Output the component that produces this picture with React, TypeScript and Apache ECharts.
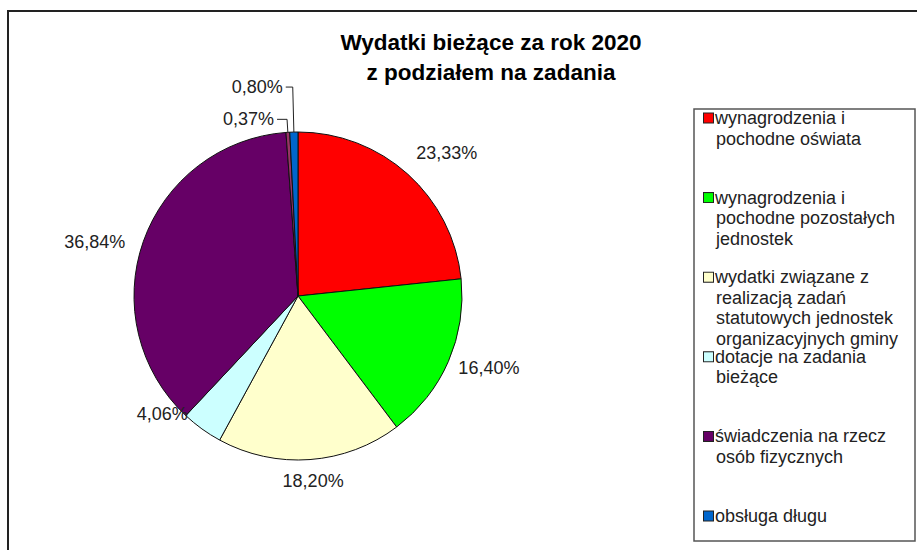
import React, { useEffect, useRef } from "react";
import * as echarts from "echarts";

// ---- data ----
const TITLE_LINES = ["Wydatki bieżące za rok 2020", "z podziałem na zadania"];

const categories = [
  "wynagrodzenia i pochodne oświata",
  "wynagrodzenia i pochodne pozostałych jednostek",
  "wydatki związane z realizacją zadań statutowych jednostek organizacyjnych gminy",
  "dotacje na zadania bieżące",
  "świadczenia na rzecz osób fizycznych",
  "pozostałe",
  "obsługa długu",
];

const shares = [23.33, 16.4, 18.2, 4.06, 36.84, 0.37, 0.8];

// legend entries (the 0,37% slice has no legend entry in the original)
const legendCategories = [
  "wynagrodzenia i pochodne oświata",
  "wynagrodzenia i pochodne pozostałych jednostek",
  "wydatki związane z realizacją zadań statutowych jednostek organizacyjnych gminy",
  "dotacje na zadania bieżące",
  "świadczenia na rzecz osób fizycznych",
  "obsługa długu",
];

const legendLines = [
  ["wynagrodzenia i", "pochodne oświata"],
  ["wynagrodzenia i", "pochodne pozostałych", "jednostek"],
  ["wydatki związane z", "realizacją zadań", "statutowych jednostek", "organizacyjnych gminy"],
  ["dotacje na zadania", "bieżące"],
  ["świadczenia na rzecz", "osób fizycznych"],
  ["obsługa długu"],
];

// ---- styles ----
const FONT = "'Liberation Sans', Arial, sans-serif";
const colors = ["#FF0000", "#00FF00", "#FFFFCC", "#CCFFFF", "#660066", "#993366", "#0066CC"];
const LEGEND_LEFT = 698;
const LEGEND_TOP = 109;
const LEGEND_PITCH = 79.6;
const LEGEND_LINE = 20.6;
// leader-line labels for the two thin slices: [length, length2]
const leaderLines: Record<number, [number, number]> = { 5: [13, 10], 6: [45, 7] };
// small nudges for the ring-placed labels (dx, dy)
const labelNudge = [
  [11, 10],
  [2, -10],
  [0, -20],
  [-15, -49],
  [-9, 15],
  [0, 0],
  [0, 0],
];

const fmt = (v: number) => v.toFixed(2).replace(".", ",") + "%";

export default function App() {
  const ref = useRef<HTMLDivElement>(null);

  useEffect(() => {
    if (!ref.current) return;
    const chart = echarts.init(ref.current, undefined, { renderer: "svg" });

    const rich: Record<string, any> = {
      t: { fontSize: 18, lineHeight: LEGEND_LINE, color: "#222", fontFamily: FONT, padding: [0, 0, 0, 2] },
      u: { fontSize: 18, lineHeight: LEGEND_LINE, color: "#222", fontFamily: FONT, padding: [0, 0, 0, 12] },
    };
    legendCategories.forEach((name, i) => {
      const ci = categories.indexOf(name);
      rich["s" + i] = {
        width: 9,
        height: 9,
        backgroundColor: colors[ci],
        borderColor: "#222",
        borderWidth: 1,
      };
    });

    const legends = legendCategories.map((name, i) => ({
      orient: "vertical",
      left: LEGEND_LEFT,
      top: LEGEND_TOP + i * LEGEND_PITCH,
      padding: 0,
      itemGap: 0,
      itemWidth: 0,
      itemHeight: 0,
      selectedMode: false,
      data: [name],
      formatter: (n: string) => {
        const idx = legendCategories.indexOf(n);
        return legendLines[idx]
          .map((l, k) => (k === 0 ? `{s${idx}|}{t|${l}}` : `{u|${l}}`))
          .join("\n");
      },
      textStyle: { fontFamily: FONT, fontSize: 18, rich },
    }));

    const mainData = categories.map((name, i) => ({
      name,
      value: shares[i],
      itemStyle: { color: colors[i] },
      label: { show: leaderLines[i] !== undefined },
      labelLine: leaderLines[i]
        ? { show: true, length: leaderLines[i][0], length2: leaderLines[i][1] }
        : { show: false },
    }));

    const ringData = categories.map((name, i) => ({
      name,
      value: shares[i],
      itemStyle: { color: "rgba(0,0,0,0)" },
      label: { show: leaderLines[i] === undefined },
    }));

    chart.setOption({
      animation: false,
      backgroundColor: "#ffffff",
      title: {
        text: TITLE_LINES.join("\n"),
        left: 491,
        top: 27,
        padding: 0,
        textAlign: "center",
        textStyle: {
          fontSize: 22.5,
          fontWeight: "bold",
          lineHeight: 30,
          color: "#000",
          fontFamily: FONT,
        },
      },
      graphic: [
        {
          type: "rect",
          shape: { x: 8, y: 11, width: 1000, height: 1000 },
          style: { fill: "none", stroke: "#222", lineWidth: 2 },
          silent: true,
        },
        {
          type: "rect",
          shape: { x: 694, y: 109, width: 221, height: 432 },
          style: { fill: "none", stroke: "#555", lineWidth: 1.5 },
          silent: true,
        },
      ],
      legend: legends,
      series: [
        {
          type: "pie",
          center: [298, 296],
          radius: 164,
          startAngle: 90,
          clockwise: true,
          avoidLabelOverlap: false,
          silent: true,
          itemStyle: { borderColor: "#111", borderWidth: 1 },
          label: {
            position: "outside",
            fontSize: 18,
            fontFamily: FONT,
            color: "#222",
            distanceToLabelLine: 3,
            formatter: (p: any) => fmt(p.value),
          },
          labelLine: { lineStyle: { color: "#222", width: 1 } },
          emphasis: { disabled: true },
          data: mainData,
        },
        {
          type: "pie",
          center: [298, 296],
          radius: [164, 242],
          startAngle: 90,
          clockwise: true,
          avoidLabelOverlap: false,
          silent: true,
          label: {
            position: "inside",
            fontSize: 18,
            fontFamily: FONT,
            color: "#222",
            formatter: (p: any) => fmt(p.value),
          },
          labelLine: { show: false },
          labelLayout: (p: any) => ({
            dx: labelNudge[p.dataIndex][0],
            dy: labelNudge[p.dataIndex][1],
          }),
          emphasis: { disabled: true },
          data: ringData,
        },
      ],
    });

    return () => chart.dispose();
  }, []);

  return (
    <div
      ref={ref}
      style={{ position: "fixed", left: 0, top: 0, width: 917, height: 550 }}
    />
  );
}
